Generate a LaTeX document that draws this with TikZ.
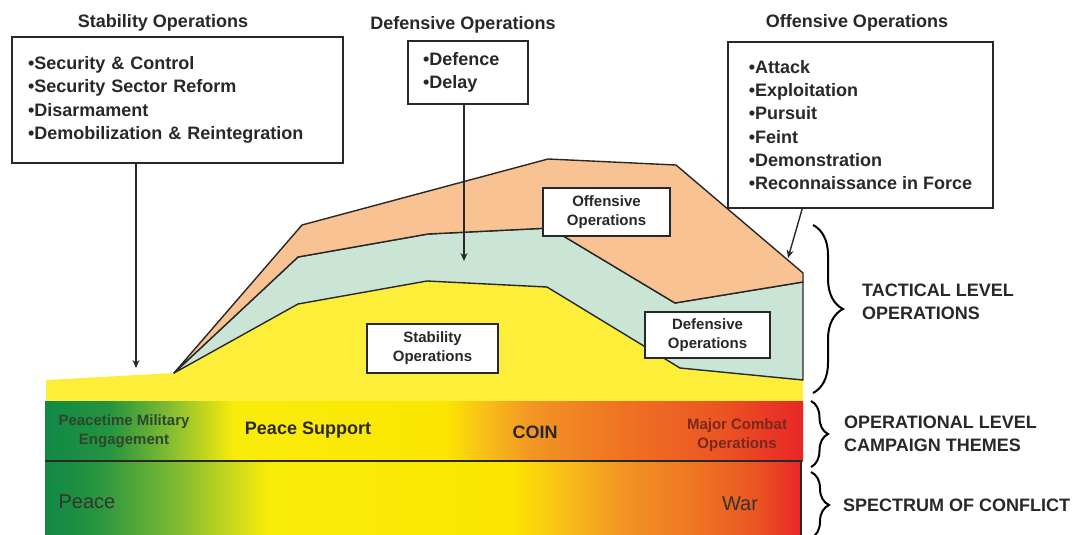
\documentclass[tikz,border=0pt]{standalone}
\usepackage{fontspec}
\setmainfont{Liberation Sans}
\usetikzlibrary{calc, arrows.meta, decorations.pathreplacing}

\definecolor{peach}{RGB}{249,194,146}
\definecolor{mint}{RGB}{202,229,214}
\definecolor{sun}{RGB}{253,238,58}
\definecolor{ink}{RGB}{40,40,40}
\definecolor{leafink}{RGB}{45,70,45}
\definecolor{rustink}{RGB}{120,40,30}
\definecolor{gA}{RGB}{16,136,70}
\definecolor{gB}{RGB}{38,148,64}
\definecolor{gC}{RGB}{130,188,50}
\definecolor{yA}{RGB}{250,236,10}
\definecolor{yB}{RGB}{252,230,0}
\definecolor{oA}{RGB}{249,196,22}
\definecolor{oB}{RGB}{242,150,35}
\definecolor{oC}{RGB}{239,115,35}
\definecolor{oD}{RGB}{236,85,35}
\definecolor{rA}{RGB}{232,38,38}

\pgfdeclarehorizontalshading{opband}{100bp}{color(0bp)=(gA); color(25bp)=(gA);
  color(29.3bp)=(gB); color(33.2bp)=(gC); color(37.5bp)=(yA); color(51.4bp)=(yB);
  color(53.7bp)=(oA); color(57bp)=(oB); color(62.9bp)=(oC); color(69.5bp)=(oD);
  color(75bp)=(rA); color(100bp)=(rA)}
\pgfdeclarehorizontalshading{spband}{100bp}{color(0bp)=(gA); color(25bp)=(gA);
  color(28.3bp)=(gB); color(33.9bp)=(gC); color(39.8bp)=(yA); color(55.7bp)=(yB);
  color(59bp)=(oA); color(63bp)=(oB); color(68.2bp)=(oC); color(72bp)=(oD);
  color(75bp)=(rA); color(100bp)=(rA)}

\begin{document}
\begin{tikzpicture}[x=1pt, y=-1pt,
    title/.style={font=\bfseries\fontsize{18}{22}\selectfont, text=ink},
    listbox/.style={draw=ink, line width=1.6pt, fill=white, align=left, inner sep=0pt,
      font=\bfseries\fontsize{18}{23.3}\selectfont, text=ink},
    tagbox/.style={draw=ink, line width=1.6pt, fill=white, align=center, inner sep=0pt,
      font=\bfseries\fontsize{15}{19}\selectfont, text=ink},
    outline/.style={draw=ink, line width=1.4pt, line join=round},
    pointer/.style={-{Stealth[length=8pt, width=7pt]}, draw=ink, line width=1.4pt},
    lvl/.style={anchor=west, align=left, inner sep=0pt,
      font=\bfseries\fontsize{18}{23}\selectfont, text=ink},
    theme/.style={align=center, inner sep=0pt, font=\bfseries\fontsize{15}{19}\selectfont},
    curly/.style={decorate, decoration={brace, amplitude=#1}, line width=2pt, draw=black}]
    \useasboundingbox (0,0) rectangle (1073,535);

    % shape outlines
    \coordinate (apex) at (174,373);
    \coordinate (o1) at (302,225); \coordinate (o2) at (548,159);
    \coordinate (o3) at (676,165); \coordinate (o4) at (803,273);
    \coordinate (g1) at (298,257); \coordinate (g2) at (428,234); \coordinate (g3) at (550,228);
    \coordinate (g4) at (675,303); \coordinate (g5) at (803,282);
    \coordinate (y1) at (298,304); \coordinate (y2) at (427,281); \coordinate (y3) at (547,287);
    \coordinate (y4) at (680,368); \coordinate (y5) at (803,380);

    \fill [sun] (46,380) -- (apex) -- (y1) -- (y2) -- (y3) -- (y4) -- (y5) -- (803,403) -- (46,403) -- cycle;

    % spectrum bands
    \shade [shading=opband] (45,401) rectangle (803,461);
    \shade [shading=spband] (45,461) rectangle (801,540);
    \draw [ink, line width=1.2pt] (45,461) -- (801,461) -- (801,540);

    \draw [outline, fill=mint] (apex) -- (y1) -- (y2) -- (y3) -- (y4) -- (y5) -- (g5) -- (g4) -- (g3) -- (g2) -- (g1) -- cycle;
    \draw [outline, fill=peach] (apex) -- (o1) -- (o2) -- (o3) -- (o4) -- (g5) -- (g4) -- (g3) -- (g2) -- (g1) -- cycle;

    \node [tagbox, minimum width=127pt, minimum height=48pt] (offin) at (606.5,212) {Offensive\\Operations};
    \node [tagbox, minimum width=125pt, minimum height=46pt] (defin) at (707.5,335) {Defensive\\Operations};
    \node [tagbox, minimum width=131pt, minimum height=49pt] (stabin) at (432.5,348.5) {Stability\\Operations};

    % headed lists
    \node [title] (stabhd) at (163,23) {Stability Operations};
    \node [listbox, minimum width=331pt, minimum height=126pt, text width=299pt] (stab) at (177.5,100)
      {•Security \& Control\\•Security Sector Reform\\•Disarmament\\•Demobilization \& Reintegration};
    \node [title] (defhd) at (463,25) {Defensive Operations};
    \node [listbox, minimum width=120pt, minimum height=63pt, text width=90pt] (def) at (468,72.5)
      {•Defence\\•Delay};
    \node [title] (offhd) at (857,23) {Offensive Operations};
    \node [listbox, minimum width=265pt, minimum height=166pt] (off) at (860.5,125)
      {•Attack\\•Exploitation\\•Pursuit\\•Feint\\•Demonstration\\•Reconnaissance in Force};

    \coordinate (stabend) at (136,368);
    \coordinate (defend) at (464,261);
    \coordinate (offend) at (788,258);
    \draw [pointer] (stabend |- stab.south) -- (stabend);
    \draw [pointer] (defend |- def.south) -- (defend);
    \draw [pointer] ($(off.south west)+(75,0)$) -- (offend);

    % band texts
    \node [theme, text=leafink] (pme) at (124,431) {Peacetime Military\\Engagement};
    \node [theme, font=\bfseries\fontsize{18}{22}\selectfont, text=ink] (ps) at (308,430) {Peace Support};
    \node [theme, font=\bfseries\fontsize{18}{22}\selectfont, text=ink] (coin) at (535,432) {COIN};
    \node [theme, text=rustink] (mco) at (737,435) {Major Combat\\Operations};
    \node [font=\fontsize{20}{24}\selectfont, text=black!80, inner sep=0pt] (peace) at (87,502) {Peace};
    \node [font=\fontsize{20}{24}\selectfont, text=black!80, inner sep=0pt] (war) at (740,504) {War};

    % levels
    \draw [curly=30] (813,225) -- (813,393);
    \draw [curly=17] (811,401) -- (811,467);
    \draw [curly=18] (811,472) -- (811,538);
    \node [lvl] (tac) at (862,301.5) {TACTICAL LEVEL\\OPERATIONS};
    \node [lvl] (opl) at (844,434) {OPERATIONAL LEVEL\\CAMPAIGN THEMES};
    \node [lvl] (soc) at (843,505) {SPECTRUM OF CONFLICT};
\end{tikzpicture}
\end{document}
